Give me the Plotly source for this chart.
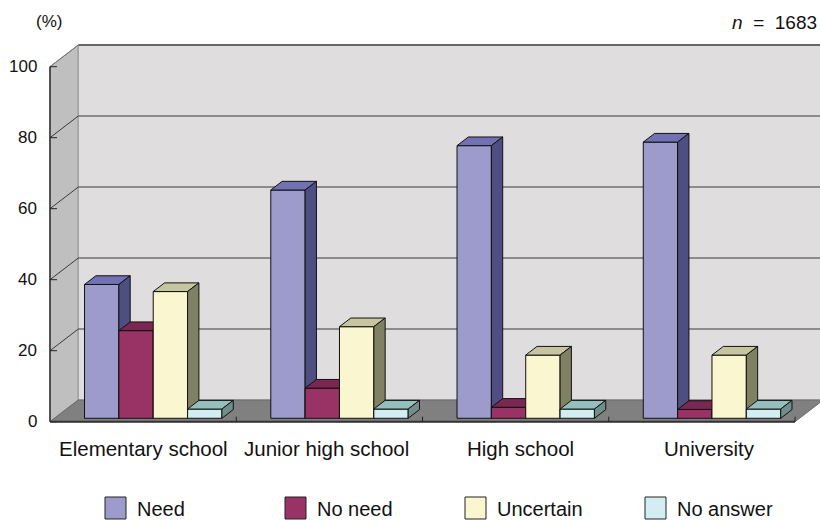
import plotly.graph_objects as go

# ---- data -----------------------------------------------------------------
categories = ["Elementary school", "Junior high school", "High school", "University"]
series_names = ["Need", "No need", "Uncertain", "No answer"]
need = [37.7, 64.3, 76.8, 77.8]
no_need = [24.7, 8.5, 3.1, 2.5]
uncertain = [35.7, 25.8, 17.8, 17.8]
no_answer = [2.6, 2.6, 2.6, 2.6]
y_ticks = [0, 20, 40, 60, 80, 100]
unit_label = "(%)"
sample_note = "<i>n</i>\u00a0\u00a0=\u00a0\u00a01683"

series_values = [need, no_need, uncertain, no_answer]

# face colours per series: front, top, side
front_colors = ["#9c9bcb", "#993366", "#faf6cf", "#d2eef2"]
top_colors = ["#7171b4", "#7a2851", "#c7c59f", "#95bfbc"]
side_colors = ["#4e4f80", "#5c1f3d", "#808065", "#6f8e8c"]

# small horizontal nudges (px) for the category captions
label_nudge = [0, -3, 5, 8]

# ---- 2.5-D geometry (data units) -------------------------------------------
W_PX, H_PX = 820, 522
X_PX_PER_UNIT = 186.25        # one category slot
Y_PX_PER_UNIT = 3.55          # one percent
X0, X1 = -0.5, len(categories) - 0.5
DX = 28.3 / X_PX_PER_UNIT     # horizontal shift of the full floor depth
DY = 21.7 / Y_PX_PER_UNIT     # vertical shift of the full floor depth
BAR_W = 34.35 / X_PX_PER_UNIT
F0 = 0.157                    # depth of the bars' front faces
BD = 0.40                     # depth of a bar
YMAX = 100

# axis ranges so that the whole page is the plotting area
x_range = [X0 - 50 / X_PX_PER_UNIT, X0 + (W_PX - 50) / X_PX_PER_UNIT]
y_range = [-(H_PX - 421.7) / Y_PX_PER_UNIT, 421.7 / Y_PX_PER_UNIT]

FONT = "Liberation Sans, Arial, Helvetica, sans-serif"
TEXT_COLOR = "#111111"

shapes = []


def poly_path(pts):
    return "M " + " L ".join(f"{x},{y}" for x, y in pts) + " Z"


# left side wall
shapes.append(dict(type="path", xref="x", yref="y", layer="below",
                   path=poly_path([(X0, 0), (X0 + DX, DY), (X0 + DX, YMAX + DY), (X0, YMAX)]),
                   fillcolor="#c0bfbf", line=dict(color="#7a7a7a", width=1)))
# back wall
shapes.append(dict(type="path", xref="x", yref="y", layer="below",
                   path=poly_path([(X0 + DX, DY), (X1 + DX, DY), (X1 + DX, YMAX + DY), (X0 + DX, YMAX + DY)]),
                   fillcolor="#e0ddde", line=dict(color="#9a9a9a", width=1)))
# floor
shapes.append(dict(type="path", xref="x", yref="y", layer="below",
                   path=poly_path([(X0, 0), (X1, 0), (X1 + DX, DY), (X0 + DX, DY)]),
                   fillcolor="#808080", line=dict(color="#6a6a6a", width=1)))

# gridlines on the back wall and the matching diagonals on the side wall
for v in y_ticks[1:]:
    shapes.append(dict(type="line", xref="x", yref="y", layer="below",
                       x0=X0 + DX, y0=v + DY, x1=X1 + DX, y1=v + DY,
                       line=dict(color="#3a3a3a" if v < YMAX else "#666666",
                                 width=1 if v < YMAX else 2)))
    shapes.append(dict(type="line", xref="x", yref="y", layer="below",
                       x0=X0, y0=v, x1=X0 + DX, y1=v + DY,
                       line=dict(color="#3a3a3a" if v < YMAX else "#777777", width=1)))

# value axis with inward tick marks
shapes.append(dict(type="line", xref="x", yref="y", layer="below",
                   x0=X0, y0=0, x1=X0, y1=YMAX, line=dict(color="#333333", width=1.5)))
for v in y_ticks:
    shapes.append(dict(type="line", xref="x", yref="y", layer="below",
                       x0=X0, y0=v, x1=X0 + 7 / X_PX_PER_UNIT, y1=v,
                       line=dict(color="#222222", width=1)))

# category axis along the front edge of the floor
shapes.append(dict(type="line", xref="x", yref="y", layer="below",
                   x0=X0, y0=0, x1=X1, y1=0, line=dict(color="#333333", width=2)))
for k in range(1, len(categories) + 1):
    shapes.append(dict(type="line", xref="x", yref="y", layer="below",
                       x0=X0 + k, y0=0, x1=X0 + k, y1=5 / Y_PX_PER_UNIT,
                       line=dict(color="#222222", width=1)))

# ---- bars: front, top and side faces ---------------------------------------
fig = go.Figure()
base_y = F0 * DY
shift_x = (F0 + BD / 2) * DX
tx, ty = BD * DX, BD * DY

for s, (name, vals) in enumerate(zip(series_names, series_values)):
    fx, fy, tpx, tpy, sx, sy = [], [], [], [], [], []
    for i, v in enumerate(vals):
        left = i - 2 * BAR_W + s * BAR_W + shift_x
        right = left + BAR_W
        top = base_y + v
        for xs, ys, pts in (
            (fx, fy, [(left, base_y), (right, base_y), (right, top), (left, top)]),
            (tpx, tpy, [(left, top), (right, top), (right + tx, top + ty), (left + tx, top + ty)]),
            (sx, sy, [(right, base_y), (right + tx, base_y + ty), (right + tx, top + ty), (right, top)]),
        ):
            pts = pts + [pts[0]]
            xs.extend([p[0] for p in pts] + [None])
            ys.extend([p[1] for p in pts] + [None])
    for xs, ys, col in ((fx, fy, front_colors[s]), (tpx, tpy, top_colors[s]), (sx, sy, side_colors[s])):
        fig.add_trace(go.Scatter(x=xs, y=ys, mode="lines", fill="toself", fillcolor=col,
                                 line=dict(color="#111111", width=1), hoverinfo="skip",
                                 showlegend=False, name=name))

# ---- text -------------------------------------------------------------------
annotations = []
for v in y_ticks:
    annotations.append(dict(x=X0, y=v, xref="x", yref="y", text=str(v), showarrow=False,
                            xanchor="right", yanchor="middle", xshift=-11,
                            font=dict(family=FONT, size=17, color=TEXT_COLOR)))
for i, c in enumerate(categories):
    annotations.append(dict(x=i, y=-27 / Y_PX_PER_UNIT, xref="x", yref="y", text=c,
                            showarrow=False, xanchor="center", yanchor="middle",
                            xshift=label_nudge[i],
                            font=dict(family=FONT, size=20.5, color=TEXT_COLOR)))
annotations.append(dict(x=49 / W_PX, y=1 - 21.5 / H_PX, xref="paper", yref="paper",
                        text=unit_label, showarrow=False, xanchor="center", yanchor="middle",
                        font=dict(family=FONT, size=17, color=TEXT_COLOR)))
annotations.append(dict(x=819 / W_PX, y=1 - 22.5 / H_PX, xref="paper", yref="paper",
                        text=sample_note, showarrow=False, xanchor="right", yanchor="middle",
                        font=dict(family=FONT, size=19, color=TEXT_COLOR)))

# legend row
for s, name in enumerate(series_names):
    lx = 105 + s * 180
    shapes.append(dict(type="rect", xref="paper", yref="paper",
                       x0=lx / W_PX, x1=(lx + 21) / W_PX,
                       y0=1 - 519 / H_PX, y1=1 - 497 / H_PX,
                       fillcolor=front_colors[s], line=dict(color="#222222", width=1)))
    annotations.append(dict(x=(lx + 30) / W_PX, y=1 - 508.5 / H_PX, xref="paper", yref="paper",
                            text=name, showarrow=False, xanchor="left", yanchor="middle",
                            font=dict(family=FONT, size=20, color=TEXT_COLOR)))

fig.update_layout(
    width=W_PX, height=H_PX,
    margin=dict(l=0, r=0, t=0, b=0),
    paper_bgcolor="white", plot_bgcolor="white",
    xaxis=dict(range=x_range, visible=False, fixedrange=True),
    yaxis=dict(range=y_range, visible=False, fixedrange=True),
    shapes=shapes, annotations=annotations, showlegend=False,
)

fig.write_html("out.html")
